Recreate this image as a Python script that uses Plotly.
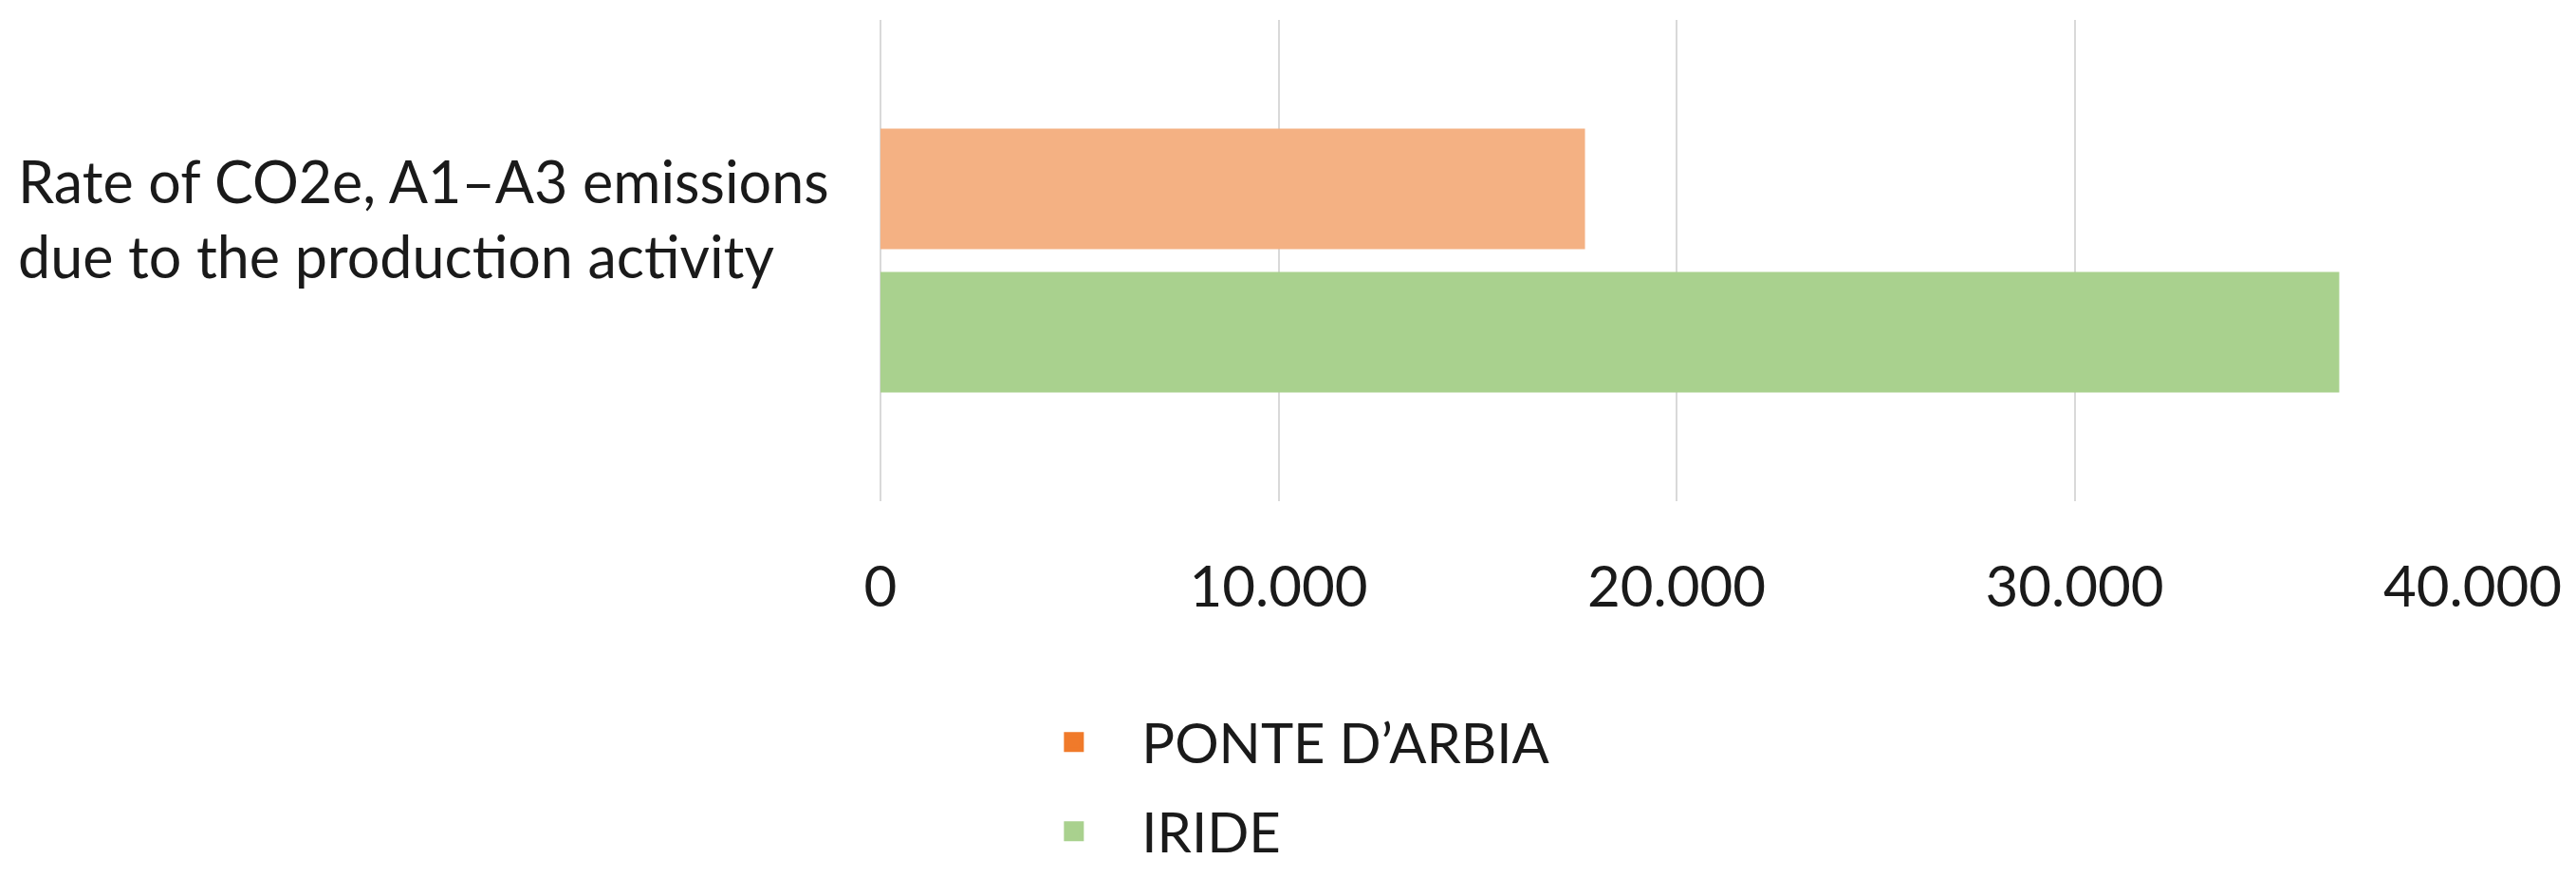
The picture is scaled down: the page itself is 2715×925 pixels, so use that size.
import plotly.graph_objects as go

# data
category = "Rate of CO2e, A1–A3 emissions<br>due to the production activity"
series_names = ["PONTE D’ARBIA", "IRIDE"]
series_values = [17700, 36650]
bar_colors = ["#F4B183", "#A9D18E"]
legend_colors = ["#F07A2A", "#A9D18E"]
x_ticks = [0, 10000, 20000, 30000, 40000]

FONT = "Lato"

fig = go.Figure()

# plotly stacks grouped horizontal bars from the bottom, so add in reverse
for name, val, col in reversed(list(zip(series_names, series_values, bar_colors))):
    fig.add_trace(go.Bar(
        y=["cat"], x=[val], name=name, orientation="h",
        marker=dict(color=col, line=dict(width=0)),
        showlegend=False, hoverinfo="x+name",
    ))

# legend entries as separate markers (the orange swatch is darker than its bar)
for i, (name, col) in enumerate(zip(series_names, legend_colors)):
    fig.add_trace(go.Scatter(
        x=[None], y=[None], mode="markers", name=name,
        marker=dict(symbol="square", size=16, color=col, line=dict(color=col, width=19)),
        legend="legend" if i == 0 else "legend2",
    ))

fig.add_annotation(
    text=category, xref="paper", yref="y", x=0, y="cat",
    xanchor="right", yanchor="middle", xshift=-52, yshift=45,
    align="left", showarrow=False,
    font=dict(family=FONT, size=61, color="#1a1a1a"),
)

legend_style = dict(
    font=dict(family=FONT, size=58, color="#1a1a1a"),
    xref="container", yref="container", x=0.3876,
    xanchor="left", yanchor="middle", bgcolor="rgba(0,0,0,0)",
    itemwidth=133,
)

# the page body adds an 8px offset, so margins are pulled in by 8
fig.update_layout(
    width=2715, height=925,
    margin=dict(l=920, r=117, t=13, b=405, autoexpand=False),
    paper_bgcolor="white", plot_bgcolor="white",
    barmode="group", bargap=0.404, bargroupgap=0.16,
    separators=",.",
    legend=dict(**legend_style, y=1 - 774 / 925),
    legend2=dict(**legend_style, y=1 - 868 / 925),
    xaxis=dict(
        range=[0, 40000], tickvals=x_ticks, tickformat=",d",
        showgrid=True, gridcolor="#D9D9D9", gridwidth=2,
        zeroline=True, zerolinecolor="#D9D9D9", zerolinewidth=2,
        showline=False, ticks="", ticklabelstandoff=50,
        tickfont=dict(family=FONT, size=60, color="#1a1a1a"),
    ),
    yaxis=dict(showticklabels=False, showgrid=False, zeroline=False, showline=False),
)

fig.write_html("out.html")
